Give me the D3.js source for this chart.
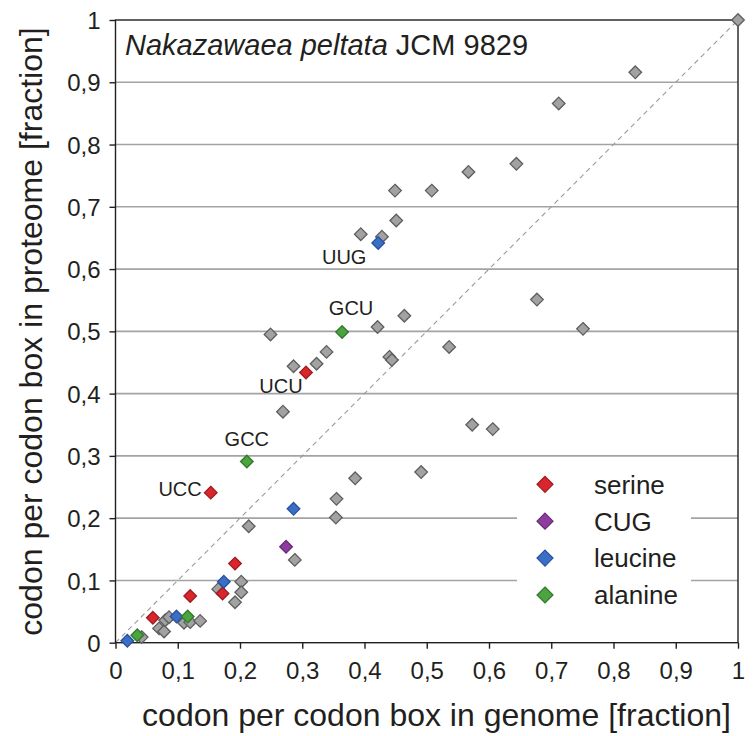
<!DOCTYPE html>
<html><head><meta charset="utf-8">
<script src="https://cdn.jsdelivr.net/npm/d3@7"></script>
<style>body{margin:0;background:#fff} svg{display:block}</style>
</head><body><svg id="c" width="755" height="736"></svg>
<script>
// ---- data ----
const tickValues = [0,0.1,0.2,0.3,0.4,0.5,0.6,0.7,0.8,0.9,1];
const tickLabels = ["0","0,1","0,2","0,3","0,4","0,5","0,6","0,7","0,8","0,9","1"];
const gridValues = [0.1,0.2,0.3,0.4,0.5,0.6,0.7,0.8,0.9];
// [genome fraction, proteome fraction]
const otherCodons = [
  [1,1],[0.835,0.916],[0.712,0.866],[0.644,0.769],[0.567,0.756],[0.508,0.726],
  [0.449,0.726],[0.451,0.678],[0.428,0.652],[0.394,0.656],[0.677,0.551],[0.751,0.504],
  [0.464,0.525],[0.421,0.507],[0.249,0.495],[0.536,0.475],[0.339,0.467],[0.323,0.448],
  [0.286,0.444],[0.440,0.459],[0.444,0.454],[0.269,0.371],[0.573,0.350],[0.606,0.343],
  [0.491,0.274],[0.385,0.264],[0.355,0.231],[0.354,0.201],[0.214,0.187],[0.288,0.133],
  [0.165,0.086],[0.202,0.098],[0.202,0.081],[0.192,0.065],[0.070,0.023],[0.078,0.018],
  [0.080,0.036],[0.086,0.041],[0.110,0.032],[0.120,0.033],[0.136,0.035],[0.042,0.009]
];
const serine  = [[0.153,0.241],[0.306,0.434],[0.192,0.127],[0.172,0.079],[0.120,0.075],[0.060,0.040]];
const cug     = [[0.274,0.154]];
const leucine = [[0.422,0.642],[0.286,0.215],[0.174,0.098],[0.098,0.042],[0.019,0.003]];
const alanine = [[0.364,0.499],[0.211,0.291],[0.116,0.042],[0.035,0.012]];
const seriesNames = ["serine","CUG","leucine","alanine"];
const labelCodons = ["UCC","GCC","UCU","GCU","UUG"];
const labelPoints = [[0.153,0.241],[0.211,0.291],[0.306,0.434],[0.364,0.499],[0.422,0.642]];

// ---- styling / layout ----
const seriesFill   = ["#d8262c","#8e3c9e","#3b6fc6","#4ca33f"];
const seriesStroke = ["#9e1b20","#652a72","#27509a","#2f7a2b"];
const labelOffsets = [[-9,3,"end"],[0,-15,"middle"],[-25,21,"middle"],[9,-17,"middle"],[-34,21,"middle"]];
const FONT = "'Liberation Sans', Arial, Helvetica, sans-serif";
const TXT = "#231f20";
const M = {left:115.5, top:20, right:738, bottom:642.7};

const svg = d3.select("#c");
const x = d3.scaleLinear().domain([0,1]).range([M.left, M.right]);
const y = d3.scaleLinear().domain([0,1]).range([M.bottom, M.top]);

// gridlines
svg.append("g").selectAll("line").data(gridValues).join("line")
  .attr("x1", M.left).attr("x2", M.right)
  .attr("y1", d=>y(d)).attr("y2", d=>y(d))
  .attr("stroke","#a3a3a3").attr("stroke-width",1.6);

// diagonal
svg.append("line")
  .attr("x1", x(0)).attr("y1", y(0)).attr("x2", x(1)).attr("y2", y(1))
  .attr("stroke","#9a9a9a").attr("stroke-width",1.1).attr("stroke-dasharray","5,4");

// frame
svg.append("rect").attr("x",M.left).attr("y",M.top)
  .attr("width",M.right-M.left).attr("height",M.bottom-M.top)
  .attr("fill","none").attr("stroke",TXT).attr("stroke-width",1.4);

// axes
const fmt = (d)=> tickLabels[tickValues.indexOf(d)];
const xAxis = svg.append("g").attr("transform",`translate(0,${M.bottom})`)
  .call(d3.axisBottom(x).tickValues(tickValues).tickFormat(fmt).tickSize(6).tickPadding(8));
const yAxis = svg.append("g").attr("transform",`translate(${M.left},0)`)
  .call(d3.axisLeft(y).tickValues(tickValues).tickFormat(fmt).tickSize(6).tickPadding(9));
[xAxis,yAxis].forEach(g=>{
  g.select(".domain").remove();
  g.selectAll(".tick line").attr("stroke",TXT).attr("stroke-width",1.4);
  g.selectAll(".tick text").attr("fill",TXT).style("font-family",FONT).style("font-size","24px");
});
xAxis.selectAll(".tick text").attr("dy","0.92em");
yAxis.selectAll(".tick text").attr("dy","0.36em");

// axis titles
svg.append("text").attr("x",436.5).attr("y",726).attr("text-anchor","middle")
  .attr("fill",TXT).style("font-family",FONT).style("font-size","32px")
  .text("codon per codon box in genome [fraction]");
svg.append("text").attr("transform","translate(42,331.5) rotate(-90)").attr("text-anchor","middle")
  .attr("fill",TXT).style("font-family",FONT).style("font-size","32px")
  .text("codon per codon box in proteome [fraction]");

// title
const t = svg.append("text").attr("x",125).attr("y",55).attr("fill",TXT)
  .style("font-family",FONT).style("font-size","29px");
t.append("tspan").style("font-style","italic").text("Nakazawaea peltata");
t.append("tspan").text(" JCM 9829");

// markers
function sq(s){ return `M0,${-s}L${s},0L0,${s}L${-s},0Z`; }
function drawPts(data, fill, stroke){
  svg.append("g").selectAll("path").data(data).join("path")
    .attr("d", sq(6.3))
    .attr("transform", d=>`translate(${x(d[0])},${y(d[1])})`)
    .attr("fill", fill).attr("stroke", stroke).attr("stroke-width",1.3);
}
drawPts(otherCodons, "#a2a2a2", "#5e5e5e");
[serine,cug,leucine,alanine].forEach((s,i)=>drawPts(s, seriesFill[i], seriesStroke[i]));

// codon labels
svg.append("g").selectAll("text").data(labelCodons).join("text")
  .attr("x",(d,i)=>x(labelPoints[i][0])+labelOffsets[i][0])
  .attr("y",(d,i)=>y(labelPoints[i][1])+labelOffsets[i][1])
  .attr("text-anchor",(d,i)=>labelOffsets[i][2])
  .attr("fill",TXT).style("font-family",FONT).style("font-size","20px")
  .text(d=>d);

// legend
const lg = svg.append("g");
lg.append("rect").attr("x",517).attr("y",466).attr("width",174).attr("height",146).attr("fill","#fff");
const items = lg.selectAll("g").data(seriesNames).join("g")
  .attr("transform",(d,i)=>`translate(545,${484.3+i*36.9})`);
items.append("path").attr("d",sq(8))
  .attr("fill",(d,i)=>seriesFill[i]).attr("stroke",(d,i)=>seriesStroke[i]).attr("stroke-width",1.2);
items.append("text").attr("x",49).attr("dy","0.36em").attr("fill",TXT)
  .style("font-family",FONT).style("font-size","26px").text(d=>d);
</script></body></html>
